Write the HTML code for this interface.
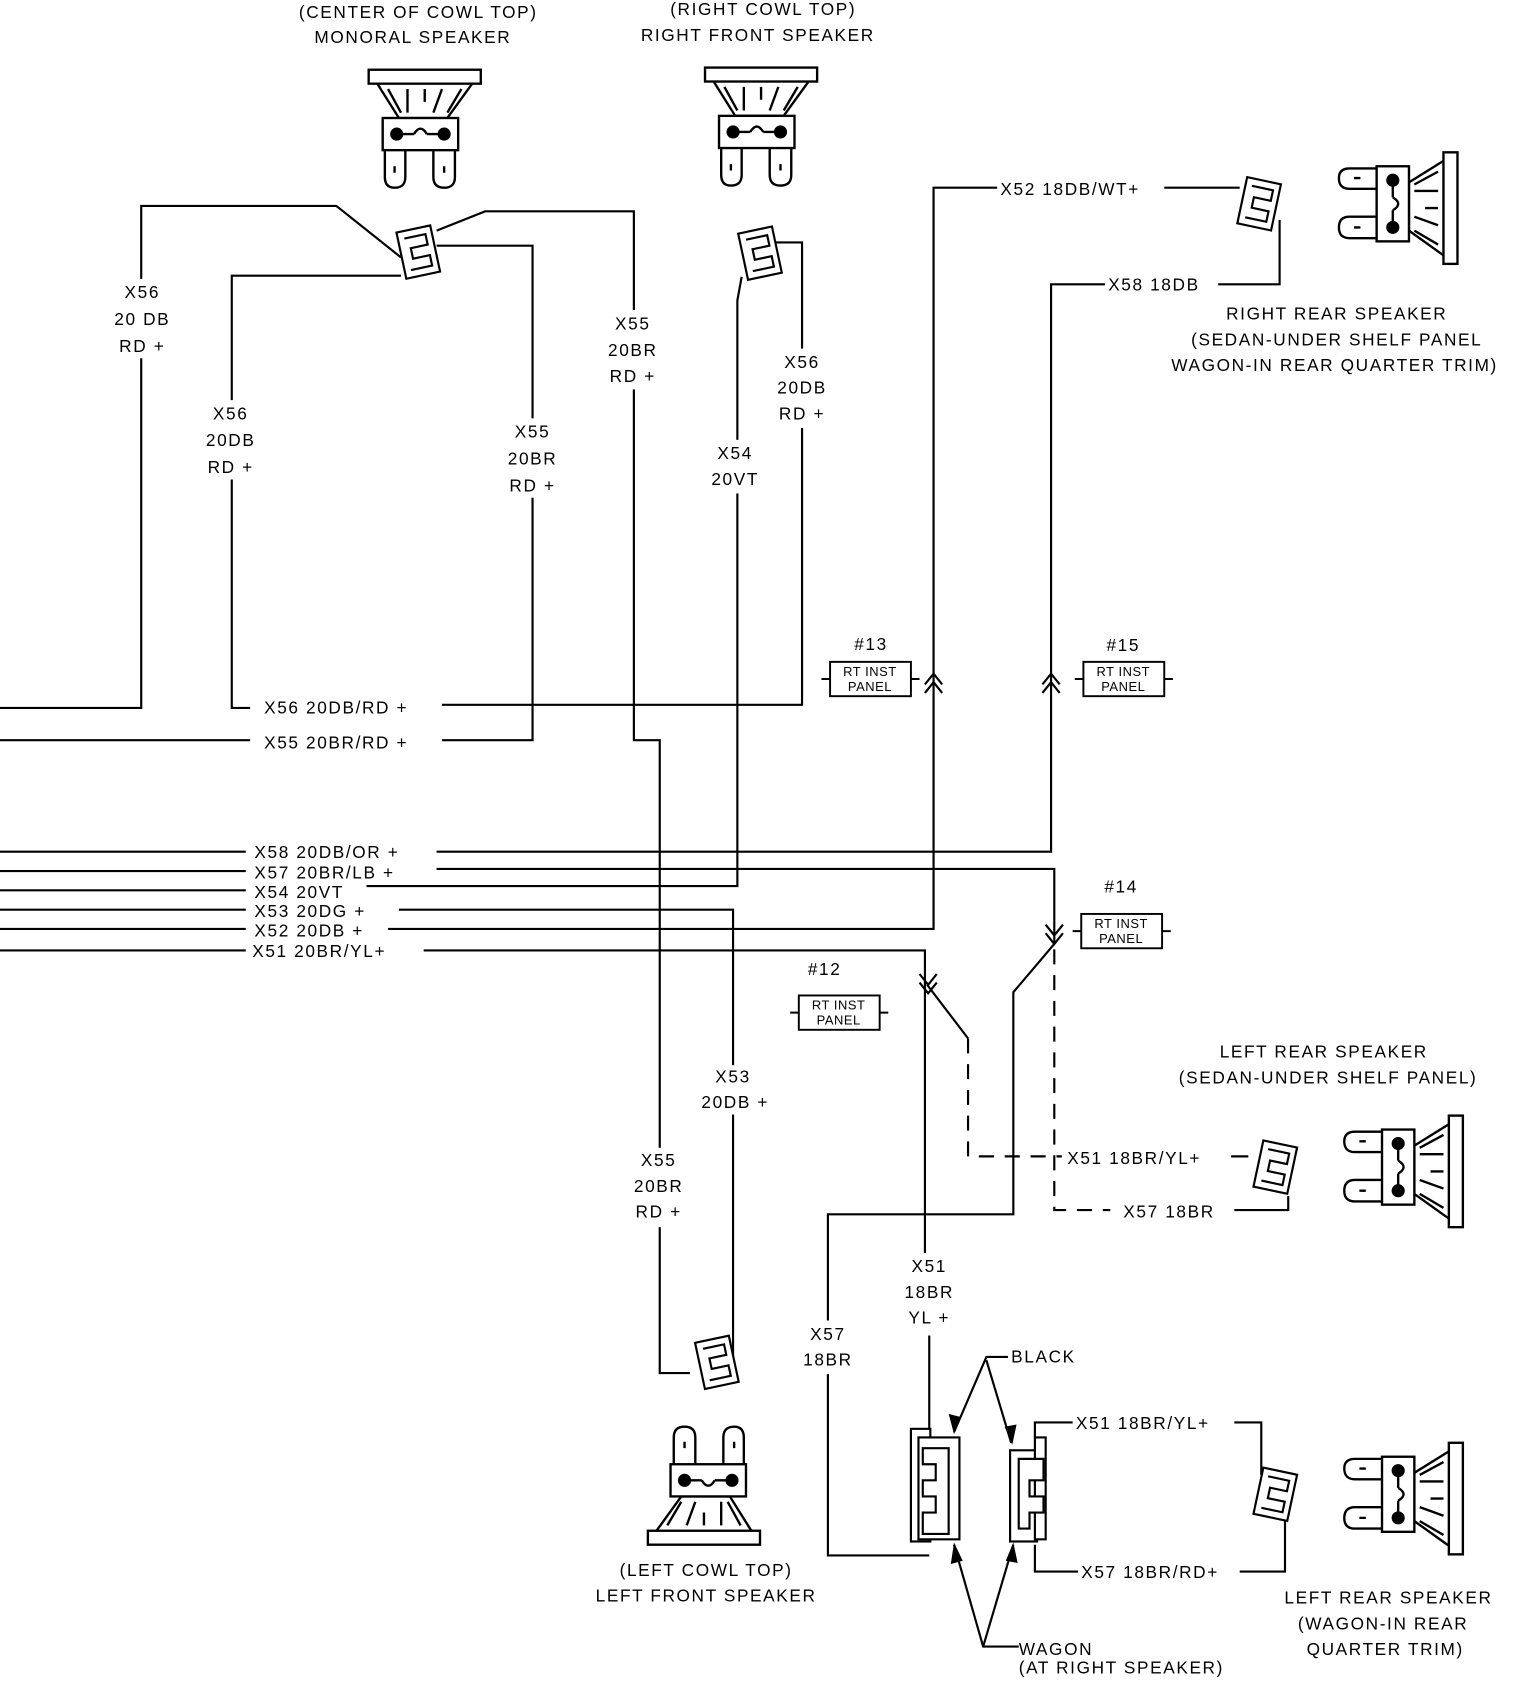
<!DOCTYPE html>
<html><head><meta charset="utf-8"><style>
html,body{margin:0;padding:0;background:#fff;}
svg{display:block;}
text{font-family:"Liberation Sans",sans-serif;font-size:16px;letter-spacing:1.5px;fill:#000;}
.s{font-size:12px;letter-spacing:0.5px;}
</style></head><body>
<svg width="1520" height="1682" viewBox="0 0 1410 1568" preserveAspectRatio="none" xmlns="http://www.w3.org/2000/svg">
<defs>
<g id="spk" fill="none" stroke="#000" stroke-width="2.2">
<rect x="-48" y="0" width="104" height="13" fill="#fff"/>
<path d="M-40 13 L-20 45 L25 45 L48 13"/>
<path d="M-30 18 L-18 40 M-12 18 L-12 40 M20 18 L12 40 M38 18 L25 40 M4 18 L4 30"/>
<rect x="-35" y="45" width="70" height="30" fill="#fff"/>
<circle cx="-22" cy="60" r="5" fill="#000"/><circle cx="22" cy="60" r="5" fill="#000"/>
<path d="M-17 60 L-6 60 M6 60 L17 60 M-6 60 Q0 50 6 60"/>
<path d="M-33 75 L-33 100 Q-33 110 -24 110 Q-14 110 -14 100 L-14 75 M-24 90 v6"/>
<path d="M12 75 L12 100 Q12 110 22 110 Q32 110 32 100 L32 75 M22 90 v6"/>
</g>
<g id="con" fill="#fff" stroke="#000" stroke-width="2">
<rect x="-16" y="-22" width="32" height="44"/>
<path d="M-10 -15 H10 V-5 H-6 V5 H10 V15 H-10" fill="none"/>
</g>
<g id="box" fill="#fff" stroke="#000" stroke-width="1.8">
<rect x="0" y="0" width="75" height="32"/>
<path d="M-8 16 H0 M75 16 H83" />
</g>
</defs>
<g fill="none" stroke="#000" stroke-width="2">
<path d="M0 660 H131 V192 H312 L372 240"/>
<path d="M232 660 H215 V257 H372"/>
<path d="M410 657 H744 V226 H718"/>
<path d="M405 229 H494 V690 H410"/>
<path d="M0 690 H232"/>
<path d="M405 215 L450 197 H588 V690 H612 V1280 H640"/>
<path d="M688 258 L684 280 V826 H340"/>
<path d="M0 830 H228"/>
<path d="M0 848 H228"/><path d="M370 848 H680 V1272"/>
<path d="M0 866 H228"/><path d="M360 866 H866 V175 H925"/><path d="M1080 175 H1150"/>
<path d="M0 886 H228"/><path d="M393 886 H858 V1170"/>
<path d="M862 1245 V1335"/>
<path d="M860 918 L898 968"/>
<path d="M898 968 V1078 H985" stroke-dasharray="14 10"/>
<path d="M1142 1078 H1158"/>
<path d="M0 794 H228"/><path d="M405 794 H975 V265 H1025"/><path d="M1130 265 H1187 V205"/>
<path d="M0 812 H228"/><path d="M405 810 H978 V880"/>
<path d="M978 880 L940 925 V1132 H768 V1450 H862"/>
<path d="M978 885 V1128 H1030" stroke-dasharray="14 10"/>
<path d="M1145 1128 H1195 V1115"/>
<path d="M960 1340 V1326 H995"/><path d="M1145 1326 H1170 V1375"/>
<path d="M960 1440 V1465 H1000"/><path d="M1150 1465 H1192 V1410"/>
<path d="M858 638 L866 628 L874 638 M858 646 L866 636 L874 646"/>
<path d="M967 638 L975 628 L983 638 M967 646 L975 636 L983 646"/>
<path d="M970 862 L978 872 L986 862 M970 870 L978 880 L986 870"/>
<path d="M853 908 L861 918 L869 908 M853 916 L861 926 L869 916"/>
<path d="M935 1265 H915 L885 1335 M915 1268 L938 1345"/>
<path d="M945 1535 H912 L885 1440 M912 1535 L940 1440"/>
</g>
<g fill="#fff">
<rect x="100" y="260" width="62" height="74"/>
<rect x="183" y="373" width="62" height="74"/>
<rect x="463" y="390" width="62" height="74"/>
<rect x="556" y="289" width="62" height="74"/>
<rect x="713" y="325" width="62" height="74"/>
<rect x="652" y="410" width="62" height="50"/>
<rect x="645" y="993" width="72" height="46"/>
<rect x="580" y="1070" width="62" height="74"/>
<rect x="831" y="1168" width="62" height="74"/>
<rect x="737" y="1231" width="62" height="50"/>
</g>
<g fill="#000"><path d="M885 1337 L880 1318 L891 1321Z"/><path d="M939 1347 L932 1330 L943 1328Z"/><path d="M885 1438 L882 1458 L893 1455Z"/><path d="M940 1438 L933 1455 L944 1457Z"/></g>
<use href="#spk" x="390" y="65"/>
<use href="#spk" x="702" y="63"/>
<use href="#spk" transform="translate(1352,190) rotate(90)"/>
<use href="#spk" transform="translate(1357,1088) rotate(90)"/>
<use href="#spk" transform="translate(1357,1393) rotate(90)"/>
<use href="#spk" transform="translate(657,1440) rotate(180)"/>
<use href="#con" transform="translate(388,235) rotate(-12)"/>
<use href="#con" transform="translate(705,236) rotate(-12)"/>
<use href="#con" transform="translate(1168,190) rotate(12)"/>
<use href="#con" transform="translate(1183,1088) rotate(12)"/>
<use href="#con" transform="translate(1183,1393) rotate(12)"/>
<use href="#con" transform="translate(665,1270) rotate(-12)"/>
<g fill="#fff" stroke="#000" stroke-width="2">
<rect x="845" y="1332" width="18" height="105"/><rect x="852" y="1340" width="38" height="95"/>
<path d="M856 1350 H880 V1430 H856 V1410 H868 V1395 H856 V1380 H868 V1365 H856Z"/>
<rect x="937" y="1352" width="25" height="85"/><rect x="960" y="1340" width="10" height="95"/>
<path d="M945 1360 H968 V1380 H955 V1395 H968 V1410 H955 V1425 H945Z"/>
</g>
<use href="#box" x="770" y="617"/><use href="#box" x="1005" y="617"/>
<use href="#box" x="1003" y="852"/><use href="#box" x="741" y="928"/>
<text class="s" x="807" y="630" text-anchor="middle">RT INST</text><text class="s" x="807" y="644" text-anchor="middle">PANEL</text>
<text class="s" x="1042" y="630" text-anchor="middle">RT INST</text><text class="s" x="1042" y="644" text-anchor="middle">PANEL</text>
<text class="s" x="1040" y="865" text-anchor="middle">RT INST</text><text class="s" x="1040" y="879" text-anchor="middle">PANEL</text>
<text class="s" x="778" y="941" text-anchor="middle">RT INST</text><text class="s" x="778" y="955" text-anchor="middle">PANEL</text>
<g text-anchor="middle">
<text x="388" y="17">(CENTER OF COWL TOP)</text><text x="383" y="40">MONORAL SPEAKER</text>
<text x="708" y="14">(RIGHT COWL TOP)</text><text x="703" y="38">RIGHT FRONT SPEAKER</text>
<text x="132" y="278">X56</text><text x="132" y="303">20 DB</text><text x="132" y="328">RD +</text>
<text x="214" y="391">X56</text><text x="214" y="416">20DB</text><text x="214" y="441">RD +</text>
<text x="494" y="408">X55</text><text x="494" y="433">20BR</text><text x="494" y="458">RD +</text>
<text x="587" y="307">X55</text><text x="587" y="332">20BR</text><text x="587" y="356">RD +</text>
<text x="744" y="343">X56</text><text x="744" y="367">20DB</text><text x="744" y="391">RD +</text>
<text x="682" y="428">X54</text><text x="682" y="452">20VT</text>
<text x="808" y="606">#13</text><text x="1042" y="607">#15</text><text x="1040" y="832">#14</text><text x="765" y="909">#12</text>
<text x="680" y="1009">X53</text><text x="682" y="1033">20DB +</text>
<text x="611" y="1087">X55</text><text x="611" y="1111">20BR</text><text x="611" y="1135">RD +</text>
<text x="862" y="1186">X51</text><text x="862" y="1210">18BR</text><text x="862" y="1234">YL +</text>
<text x="768" y="1249">X57</text><text x="768" y="1273">18BR</text>
<text x="1240" y="298">RIGHT REAR SPEAKER</text><text x="1240" y="322">(SEDAN-UNDER SHELF PANEL</text><text x="1238" y="346">WAGON-IN REAR QUARTER TRIM)</text>
<text x="1228" y="986">LEFT REAR SPEAKER</text><text x="1232" y="1010">(SEDAN-UNDER SHELF PANEL)</text>
<text x="655" y="1469">(LEFT COWL TOP)</text><text x="655" y="1493">LEFT FRONT SPEAKER</text>
<text x="1288" y="1495">LEFT REAR SPEAKER</text><text x="1283" y="1519">(WAGON-IN REAR</text><text x="1285" y="1543">QUARTER TRIM)</text>
</g>
<text x="245" y="665">X56 20DB/RD +</text>
<text x="245" y="698">X55 20BR/RD +</text>
<text x="236" y="800">X58 20DB/OR +</text>
<text x="236" y="819">X57 20BR/LB +</text>
<text x="236" y="837">X54 20VT</text>
<text x="236" y="855">X53 20DG +</text>
<text x="236" y="873">X52 20DB +</text>
<text x="234" y="892">X51 20BR/YL+</text>
<text x="928" y="182">X52 18DB/WT+</text>
<text x="1028" y="271">X58 18DB</text>
<text x="990" y="1085">X51 18BR/YL+</text>
<text x="1042" y="1135">X57 18BR</text>
<text x="938" y="1270">BLACK</text>
<text x="998" y="1332">X51 18BR/YL+</text>
<text x="1003" y="1471">X57 18BR/RD+</text>
<text x="945" y="1543">WAGON</text><text x="945" y="1560">(AT RIGHT SPEAKER)</text>
</svg>
</body></html>
